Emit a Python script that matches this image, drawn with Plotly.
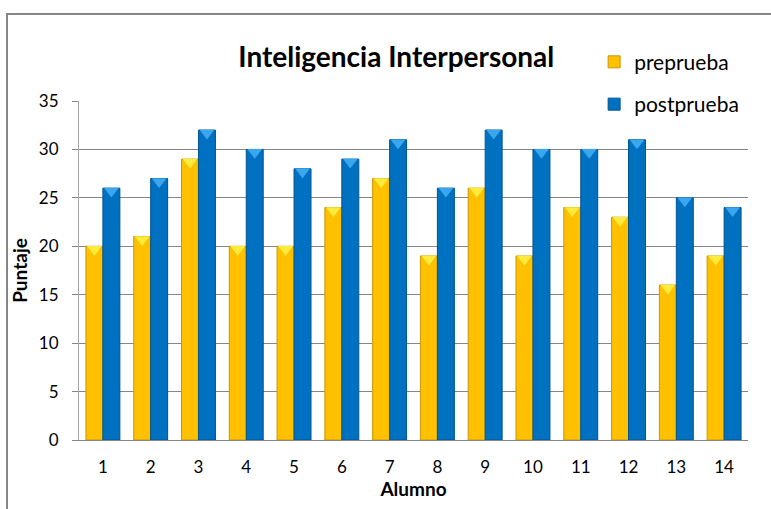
import plotly.graph_objects as go

alumnos = ["1", "2", "3", "4", "5", "6", "7", "8", "9", "10", "11", "12", "13", "14"]
preprueba = [20, 21, 29, 20, 20, 24, 27, 19, 26, 19, 24, 23, 16, 19]
postprueba = [26, 27, 32, 30, 28, 29, 31, 26, 32, 30, 30, 31, 25, 24]
y_ticks = [0, 5, 10, 15, 20, 25, 30, 35]

FONT = "Lato, Arial"

fig = go.Figure()
fig.add_trace(go.Bar(
    x=alumnos, y=preprueba, name="preprueba", offsetgroup="a", legendgroup="a",
    marker=dict(color="#FFC000", line=dict(color="#C99700", width=1)),
))
fig.add_trace(go.Bar(
    x=alumnos, y=postprueba, name="postprueba", offsetgroup="b", legendgroup="b",
    marker=dict(color="#0070C0", line=dict(color="#005391", width=1)),
))
# top bevel highlights
fig.add_trace(go.Scatter(
    x=alumnos, y=[v - 0.3 for v in preprueba], mode="markers", offsetgroup="a",
    showlegend=False, hoverinfo="skip",
    marker=dict(symbol="triangle-down", size=13, color="#FFEB3B", line=dict(width=0)),
))
fig.add_trace(go.Scatter(
    x=alumnos, y=[v - 0.3 for v in postprueba], mode="markers", offsetgroup="b",
    showlegend=False, hoverinfo="skip",
    marker=dict(symbol="triangle-down", size=13, color="#3AA6EE", line=dict(width=0)),
))

fig.update_layout(
    width=771, height=509,
    margin=dict(l=79, r=23, t=101, b=69),
    paper_bgcolor="white", plot_bgcolor="white",
    barmode="group", scattermode="group", bargap=0.29, bargroupgap=0.0,
    font=dict(family=FONT, size=17, color="black"),
    title=dict(text="<b>Inteligencia Interpersonal</b>", x=0.514, xanchor="center",
               y=0.888, yanchor="middle", font=dict(size=28, family=FONT)),
    legend=dict(x=0.77, y=1.175, xanchor="left", yanchor="top",
                font=dict(size=21, family=FONT), traceorder="grouped",
                tracegroupgap=12, itemwidth=30, bgcolor="rgba(0,0,0,0)"),
    xaxis=dict(title=dict(text="<b>Alumno</b>", font=dict(size=19), standoff=4),
               showline=True, linecolor="#868686", linewidth=1, ticks="",
               tickfont=dict(size=17), showgrid=False, ticklabelstandoff=12),
    yaxis=dict(title=dict(text="<b>Puntaje</b>", font=dict(size=19), standoff=6),
               range=[0, 35], tickvals=y_ticks, showgrid=True, gridcolor="#868686",
               gridwidth=1, showline=True, linecolor="#A6A6A6", linewidth=1,
               ticks="outside", ticklen=6, tickcolor="#868686",
               tickfont=dict(size=17), zeroline=False, ticklabelstandoff=10),
    shapes=[
        dict(type="rect", xref="paper", yref="paper", x0=-0.1076, x1=1.06,
             y0=-0.3, y1=1.2566, line=dict(color="#868686", width=2), layer="below"),
        dict(type="rect", xref="paper", yref="y", x0=0.734, x1=1.02,
             y0=34.6, y1=35.4, fillcolor="white", line=dict(width=0), layer="above"),
    ],
)

fig.write_html("out.html", config={"displayModeBar": False},
               post_script="document.body.style.margin='0px';")
